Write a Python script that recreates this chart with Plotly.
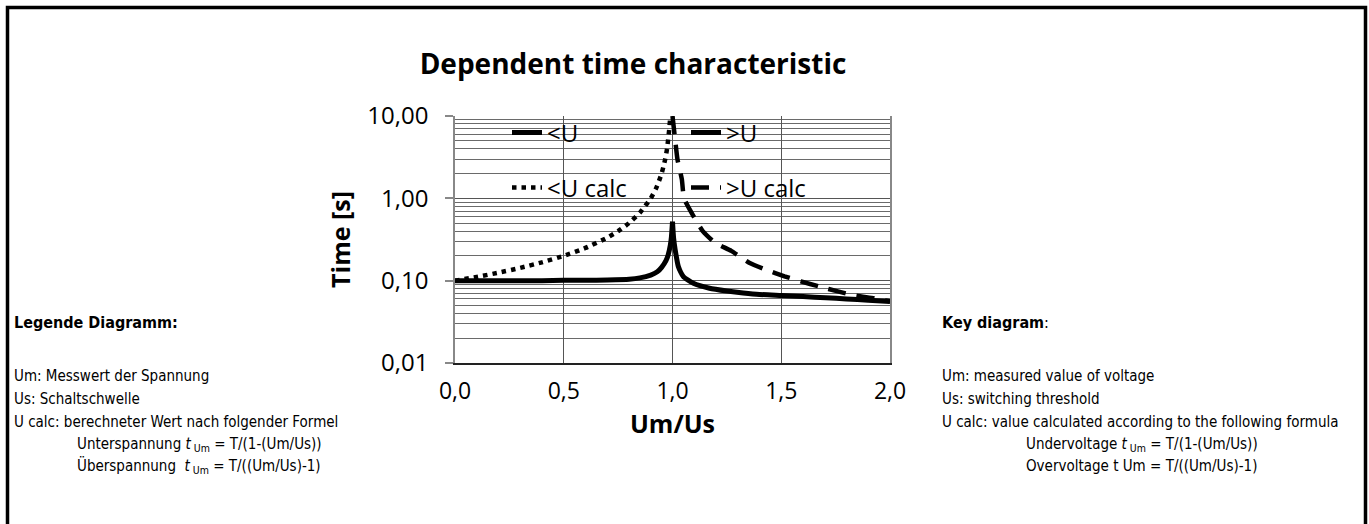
import plotly.graph_objects as go

# ---------------- data ----------------
x_under = [0.0, 0.1, 0.2, 0.3, 0.4, 0.5, 0.6, 0.7, 0.8, 0.85, 0.9, 0.93, 0.95, 0.97, 0.98, 0.99, 0.995, 1.0]
y_under = [0.100, 0.100, 0.100, 0.100, 0.100, 0.101, 0.101, 0.102, 0.104, 0.108, 0.117, 0.128, 0.145, 0.175, 0.205, 0.27, 0.34, 0.52]

x_over = [1.0, 1.005, 1.012, 1.027, 1.05, 1.096, 1.17, 1.25, 1.325, 1.4, 1.5, 1.6, 1.705, 1.8, 1.9, 2.0]
y_over = [0.52, 0.33, 0.24, 0.148, 0.112, 0.093, 0.081, 0.075, 0.071, 0.068, 0.066, 0.064, 0.062, 0.060, 0.058, 0.056]

x_under_calc = [0.0, 0.1, 0.2, 0.3, 0.4, 0.5, 0.6, 0.7, 0.75, 0.8, 0.85, 0.9, 0.925, 0.95, 0.966, 0.975, 0.985, 0.99]
y_under_calc = [0.100, 0.111, 0.125, 0.143, 0.167, 0.200, 0.250, 0.333, 0.400, 0.500, 0.667, 1.00, 1.33, 2.00, 2.96, 4.0, 6.9, 10.0]

x_over_calc = [1.0, 1.012, 1.023, 1.043, 1.053, 1.093, 1.139, 1.195, 1.27, 1.355, 1.43, 1.515, 1.59, 1.675, 1.76, 1.84, 1.93, 2.0]
y_over_calc = [10.0, 5.2, 2.96, 1.7, 1.0, 0.63, 0.40, 0.29, 0.23, 0.164, 0.136, 0.113, 0.098, 0.085, 0.074, 0.066, 0.061, 0.056]

series_names = ["<U", ">U", "<U calc", ">U calc"]

x_tickvals = [0.0, 0.5, 1.0, 1.5, 2.0]
x_ticktext = ["0,0", "0,5", "1,0", "1,5", "2,0"]
y_tickvals = [0.01, 0.1, 1, 10]
y_ticktext = ["0,01", "0,10", "1,00", "10,00"]
y_minorvals = [m * d for d in (0.01, 0.1, 1) for m in range(2, 10)]

title_text = "Dependent time characteristic"
y_title = "Time [s]"
x_title = "Um/Us"

left_head = "<b>Legende Diagramm:</b>"
left_lines = [
    "Um: Messwert der Spannung",
    "Us: Schaltschwelle",
    "U calc: berechneter Wert nach folgender Formel",
]
left_formulas = [
    "Unterspannung <i>t</i><sub> Um</sub> = T/(1-(Um/Us))",
    "Überspannung  <i>t</i><sub> Um</sub> = T/((Um/Us)-1)",
]
right_head = "<b>Key diagram</b>:"
right_lines = [
    "Um: measured value of voltage",
    "Us: switching threshold",
    "U calc: value calculated according to the following formula",
]
right_formulas = [
    "Undervoltage <i>t</i><sub> Um</sub> = T/(1-(Um/Us))",
    "Overvoltage t Um = T/((Um/Us)-1)",
]

# ---------------- layout geometry ----------------
W, H = 1369, 524
PL, PR, PT, PB = 455, 890, 116, 363


def px(xpix):
    return (xpix - PL) / (PR - PL)


def py(ypix):
    return (PB - ypix) / (PB - PT)


CHART_FONT = "'Open Sans', Lato, sans-serif"
SIDE_FONT = "'Noto Sans Condensed', 'DejaVu Sans Condensed', Roboto, sans-serif"

fig = go.Figure()
fig.add_trace(go.Scatter(x=x_under, y=y_under, name=series_names[0], mode="lines",
                         line=dict(color="black", width=5, shape="spline", smoothing=0.5),
                         legend="legend"))
fig.add_trace(go.Scatter(x=x_over, y=y_over, name=series_names[1], mode="lines",
                         line=dict(color="black", width=5, shape="spline", smoothing=0.5),
                         legend="legend"))
fig.add_trace(go.Scatter(x=x_under_calc, y=y_under_calc, name=series_names[2], mode="lines",
                         line=dict(color="black", width=4.5, dash="4.5px,5px", shape="spline", smoothing=0.5),
                         legend="legend2"))
fig.add_trace(go.Scatter(x=x_over_calc, y=y_over_calc, name=series_names[3], mode="lines",
                         line=dict(color="black", width=4.5, dash="18px,11px", shape="spline", smoothing=0.5),
                         legend="legend2"))

grid = "#555555"
fig.update_layout(
    width=W, height=H, autosize=False,
    margin=dict(l=PL, r=W - PR, t=PT, b=H - PB, pad=0),
    paper_bgcolor="white", plot_bgcolor="white",
    font=dict(family=CHART_FONT, color="black"),
    title=dict(text="<b>" + title_text + "</b>", xref="paper", x=px(633), xanchor="center",
               yref="container", y=1 - 64 / H, yanchor="middle",
               font=dict(family=CHART_FONT, size=28, color="black")),
    xaxis=dict(range=[0, 2], tickmode="array", tickvals=x_tickvals, ticktext=x_ticktext,
               showgrid=True, gridcolor=grid, gridwidth=1, zeroline=False,
               showline=True, linecolor="#222222", linewidth=1.5, mirror=False,
               ticks="", ticklabelstandoff=7,
               tickfont=dict(family=CHART_FONT, size=23, color="black"),
               title=dict(text="<b>" + x_title + "</b>", standoff=2,
                          font=dict(family=CHART_FONT, size=25, color="black"))),
    yaxis=dict(type="log", range=[-2, 1], tickmode="array", tickvals=y_tickvals, ticktext=y_ticktext,
               showgrid=True, gridcolor=grid, gridwidth=1, zeroline=False,
               showline=True, linecolor="#888888", linewidth=1.5, mirror=True,
               ticks="outside", ticklen=8, tickcolor="#888888", tickwidth=1.5,
               ticklabelstandoff=12,
               tickfont=dict(family=CHART_FONT, size=24, color="black"),
               minor=dict(tickmode="array", tickvals=y_minorvals, showgrid=True,
                          gridcolor="#6a6a6a", gridwidth=1, ticks=""),
               title=dict(text="<b>" + y_title + "</b>", standoff=10,
                          font=dict(family=CHART_FONT, size=25, color="black"))),
    legend=dict(orientation="h", x=px(507), xanchor="left", y=py(133), yanchor="middle",
                bgcolor="rgba(0,0,0,0)", borderwidth=0, entrywidth=134, entrywidthmode="pixels",
                font=dict(family=CHART_FONT, size=24, color="black"), tracegroupgap=0,
                itemclick=False, itemdoubleclick=False),
    legend2=dict(orientation="h", x=px(507), xanchor="left", y=py(188), yanchor="middle",
                 bgcolor="rgba(0,0,0,0)", borderwidth=0, entrywidth=134, entrywidthmode="pixels",
                 font=dict(family=CHART_FONT, size=24, color="black"), tracegroupgap=0,
                 itemclick=False, itemdoubleclick=False),
    showlegend=True,
)

# outer frame (open at the bottom edge of the picture)
fig.add_shape(type="rect", xref="paper", yref="paper",
              x0=px(7.5), x1=px(1365.5), y0=py(545), y1=py(7.5),
              line=dict(color="black", width=3.5), fillcolor="rgba(0,0,0,0)", layer="above")

# side texts
ann = []
side_rows = [376, 399, 422]
formula_rows = [444, 466]
ann.append(dict(text=left_head, x=px(12), y=py(322), size=16))
for t, r in zip(left_lines, side_rows):
    ann.append(dict(text=t, x=px(12), y=py(r), size=15))
for t, r in zip(left_formulas, formula_rows):
    ann.append(dict(text=t, x=px(75), y=py(r), size=15))
ann.append(dict(text=right_head, x=px(940), y=py(322), size=16))
for t, r in zip(right_lines, side_rows):
    ann.append(dict(text=t, x=px(940), y=py(r), size=15))
for t, r in zip(right_formulas, formula_rows):
    ann.append(dict(text=t, x=px(1024), y=py(r), size=15))

for a in ann:
    fig.add_annotation(text=a["text"], xref="paper", yref="paper", x=a["x"], y=a["y"],
                       xanchor="left", yanchor="middle", showarrow=False, align="left",
                       font=dict(family=SIDE_FONT, size=a["size"], color="black"))

fig.write_html("out.html", config={"displayModeBar": False},
               post_script="document.body.style.margin='0px';")
